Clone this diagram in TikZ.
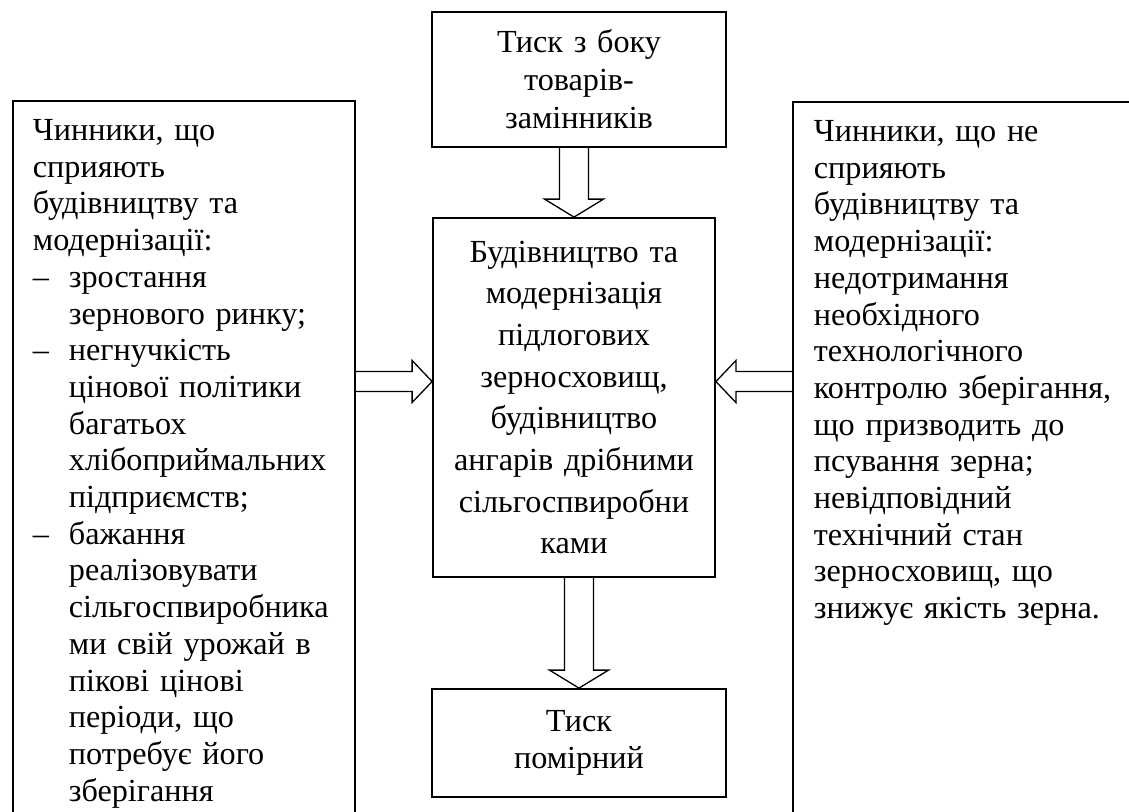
\documentclass[tikz,border=0pt]{standalone}
\usepackage{fontspec}
\setmainfont{Liberation Serif}
\usetikzlibrary{calc}

\newcommand{\itmark}{\makebox[18pt][l]{–}}
\newcommand{\itgap}{\hspace*{18pt}}

% hollow arrow going down, from the south side of #1 to the north side of #2
\newcommand{\downblock}[2]{%
  \draw[hollow] let \p1=(#1.south), \p2=(#2.north) in
    (\x2-7.25pt,\y1) -- (\x2-7.25pt,\y2+9pt) -- (\x2-14.75pt,\y2+9pt) -- (\p2)
    -- (\x2+14.75pt,\y2+9pt) -- (\x2+7.25pt,\y2+9pt) -- (\x2+7.25pt,\y1);}
% hollow arrow going sideways, #3 = signed head length
\newcommand{\sideblock}[3]{%
  \draw[hollow] let \p1=#1, \p2=#2 in
    (\x1,\y2+5pt) -- ({\x2-(#3)},\y2+5pt) -- ({\x2-(#3)},\y2+10.5pt) -- (\p2)
    -- ({\x2-(#3)},\y2-10.5pt) -- ({\x2-(#3)},\y2-5pt) -- (\x1,\y2-5pt);}

\begin{document}
\begin{tikzpicture}[x=0.5pt,y=-0.5pt,
    box/.style={draw,line width=0.9pt},
    sidebox/.style={box,anchor=north west,align=left,inner xsep=10pt,inner ysep=9.3pt,
      text depth=420pt,font=\fontsize{16.1}{18.35}\selectfont},
    midbox/.style={box,align=center,inner sep=0pt},
    hollow/.style={line width=0.65pt,line join=miter}]
  \useasboundingbox (0,0) rectangle (1129,811);
  \clip (0,0) rectangle (1129,811);

  \node[sidebox,text width=151pt] (pro) at (12,100) {Чинники, що\\
    сприяють\\
    будівництву та\\
    модернізації:\\
    \itmark зростання\\
    \itgap зернового ринку;\\
    \itmark негнучкість\\
    \itgap цінової політики\\
    \itgap багатьох\\
    \itgap хлібоприймальних\\
    \itgap підприємств;\\
    \itmark бажання\\
    \itgap реалізовувати\\
    \itgap сільгоспвиробника\\
    \itgap ми свій урожай в\\
    \itgap пікові цінові\\
    \itgap періоди, що\\
    \itgap потребує його\\
    \itgap зберігання};

  \node[sidebox,text width=159pt,inner xsep=10.5pt] (con) at (792,101) {Чинники, що не\\
    сприяють\\
    будівництву та\\
    модернізації:\\
    недотримання\\
    необхідного\\
    технологічного\\
    контролю зберігання,\\
    що призводить до\\
    псування зерна;\\
    невідповідний\\
    технічний стан\\
    зерносховищ, що\\
    знижує якість зерна.};

  \node[midbox,minimum width=147pt,minimum height=67.5pt,text width=140pt,
    font=\fontsize{16.1}{19}\selectfont] (subst) at (579,79.5) {Тиск з боку\\ товарів-\\ замінників};
  \node[midbox,minimum width=141pt,minimum height=179.5pt,text width=135pt,
    font=\fontsize{16.1}{20.85}\selectfont] (build) at (574,397.5) {Будівництво та\\
    модернізація\\ підлогових\\ зерносховищ,\\ будівництво\\ ангарів дрібними\\
    сільгоспвиробни\\ ками};
  \node[midbox,minimum width=147pt,minimum height=54pt,text width=140pt,
    font=\fontsize{16.1}{18.5}\selectfont] (press) at (579,743) {Тиск\\ помірний};

  \coordinate (lvl) at (0,381.5);

  \downblock{subst}{build}
  \downblock{build}{press}
  \sideblock{(pro.east |- lvl)}{(build.west |- lvl)}{10pt}
  \sideblock{(con.west |- lvl)}{(build.east |- lvl)}{-10pt}
\end{tikzpicture}
\end{document}
